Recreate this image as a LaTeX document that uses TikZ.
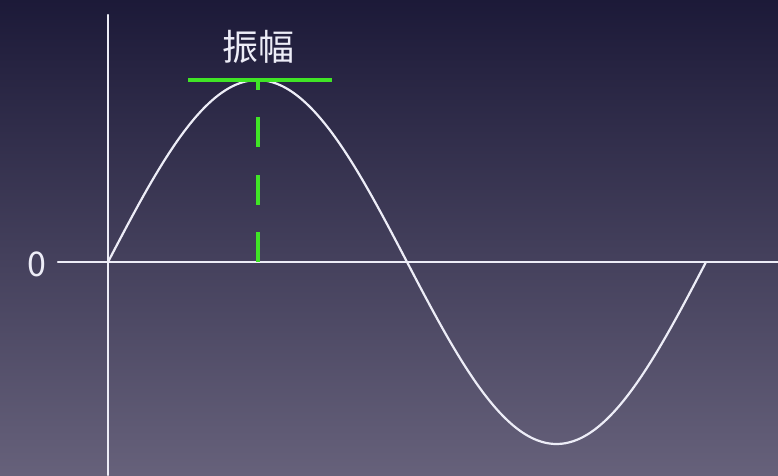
\documentclass[tikz,border=0pt]{standalone}
\usepackage{fontspec}
\setmainfont{Noto Sans CJK SC}
\usepackage{tikz}
\usetikzlibrary{positioning, calc}
\definecolor{NightTop}{rgb}{0.11, 0.10, 0.22}
\definecolor{NightBottom}{rgb}{0.40, 0.38, 0.48}
\definecolor{AxisWhite}{rgb}{0.93, 0.93, 0.97}
\definecolor{AmpGreen}{rgb}{0.25, 0.90, 0.15}

\begin{document}
\begin{tikzpicture}[x=1pt, y=-1pt, line cap=round]
        % Background
        \shade [top color=NightTop, bottom color=NightBottom] (0,0) rectangle (778,475);
        \useasboundingbox (0,0) rectangle (778,475);

        % Axes
        \coordinate (origin) at (108,262);
        \coordinate (xstart) at (58,262);
        \coordinate (xend) at (778,262);
        \coordinate (ytop) at (108,15);
        \coordinate (ybottom) at (108,475);
        \draw [AxisWhite, line width=2.4pt] (xstart) -- (xend);
        \draw [AxisWhite, line width=2.2pt] (ytop) -- (ybottom);
        \node [AxisWhite, font=\fontsize{34}{34}\selectfont] (zero) at (37,264) {0};

        % Sine wave
        \draw [AxisWhite, line width=2.2pt, domain=0:598, samples=150, smooth]
            plot (108+\x, {262-182*sin(\x/598*360)});

        % Amplitude marks
        \coordinate (peak) at (258,80);
        \coordinate (ampleft) at (188,80);
        \coordinate (ampright) at (332,80);
        \draw [AmpGreen, line width=4.5pt, line cap=butt] (ampleft) -- (ampright);
        \draw [AmpGreen, line width=4.5pt, line cap=butt, dash pattern=on 30pt off 27.5pt]
            (origin -| peak) -- (peak);
        \node [AxisWhite, font=\fontsize{36}{36}\selectfont, above=13pt of peak] (amp) {振幅};
    \end{tikzpicture}
\end{document}
